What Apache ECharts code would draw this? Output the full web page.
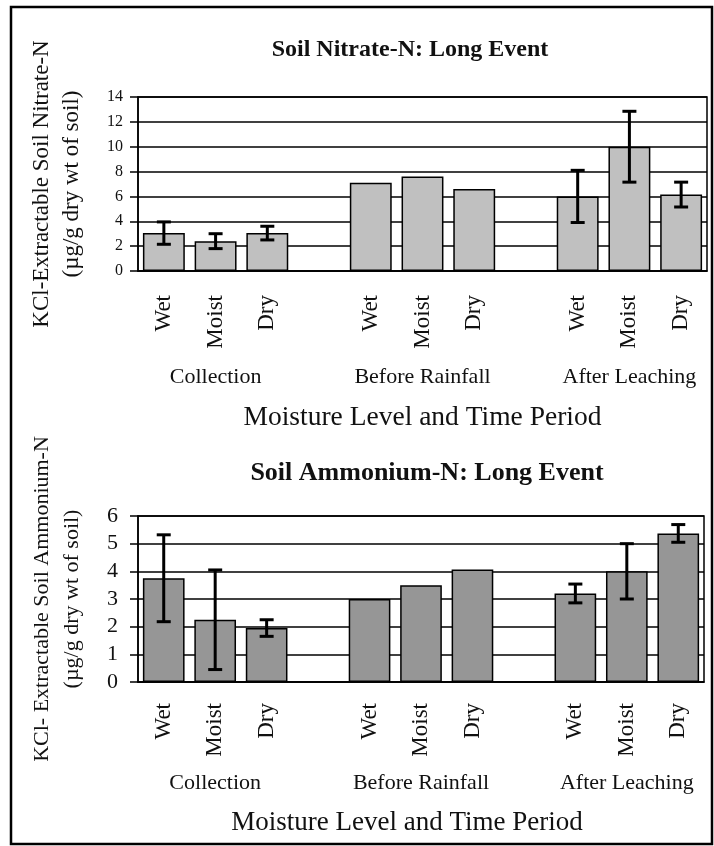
<!DOCTYPE html>
<html>
<head>
<meta charset="utf-8">
<title>Soil Nitrate-N and Ammonium-N: Long Event</title>
<script src="https://cdn.jsdelivr.net/npm/echarts@6/dist/echarts.min.js"></script>
<style>
  html, body { margin: 0; padding: 0; background: #fff; }
  #chart { width: 714px; height: 846px; }
</style>
</head>
<body>
<div id="chart"></div>
<script>
// Moisture level within each time period; empty slots separate the periods
const categories = ['Wet', 'Moist', 'Dry', '', 'Wet', 'Moist', 'Dry', '', 'Wet', 'Moist', 'Dry'];
const periodLabels = ['', 'Collection', '', '', '', 'Before Rainfall', '', '', '', 'After Leaching', ''];

// Soil nitrate-N (µg/g dry wt of soil) and error bar half-widths
const nitrateMean = [3.05, 2.4, 3.05, null, 7.1, 7.6, 6.6, null, 6.0, 10.0, 6.15];
const nitrateErr  = [0.9, 0.6, 0.55, null, null, null, null, null, 2.1, 2.85, 1.0];

// Soil ammonium-N (µg/g dry wt of soil) and error bar half-widths
const ammoniumMean = [3.75, 2.25, 1.95, null, 3.0, 3.5, 4.07, null, 3.2, 4.0, 5.37];
const ammoniumErr  = [1.57, 1.8, 0.3, null, null, null, null, null, 0.34, 1.0, 0.32];

const nitrateTicks = [0, 2, 4, 6, 8, 10, 12, 14];
const ammoniumTicks = [0, 1, 2, 3, 4, 5, 6];

const FONT = '"Liberation Serif", "Times New Roman", serif';
const INK = '#111';

function errorData(mean, err) {
  const out = [];
  mean.forEach((m, i) => {
    if (m != null && err[i] != null) out.push([i, m, err[i]]);
  });
  return out;
}

function renderErrorBar(params, api) {
  const i = api.value(0), m = api.value(1), e = api.value(2);
  const hi = api.coord([i, m + e]);
  const lo = api.coord([i, m - e]);
  const cap = 7;
  const style = { stroke: '#000', lineWidth: 3 };
  return {
    type: 'group',
    children: [
      { type: 'line', shape: { x1: hi[0], y1: hi[1], x2: lo[0], y2: lo[1] }, style },
      { type: 'line', shape: { x1: hi[0] - cap, y1: hi[1], x2: hi[0] + cap, y2: hi[1] }, style },
      { type: 'line', shape: { x1: lo[0] - cap, y1: lo[1], x2: lo[0] + cap, y2: lo[1] }, style }
    ]
  };
}

function valueAxis(gridIndex, ticks, labelSize, labelMargin, name, nameSize) {
  return {
    type: 'value',
    gridIndex,
    min: ticks[0],
    max: ticks[ticks.length - 1],
    interval: ticks[1] - ticks[0],
    axisLine: { show: true, lineStyle: { color: '#000', width: 1.5 } },
    axisTick: { show: true, length: 8, lineStyle: { color: '#000', width: 1.5 } },
    axisLabel: { color: INK, fontFamily: FONT, fontSize: labelSize, margin: labelMargin },
    splitLine: { show: true, lineStyle: { color: '#000', width: 1.5 } },
    name,
    nameLocation: 'middle',
    nameRotate: 90,
    nameGap: 51,
    nameTextStyle: { color: INK, fontFamily: FONT, fontSize: nameSize, lineHeight: 30, align: 'center' }
  };
}

function levelAxis(gridIndex, labelMargin) {
  return {
    type: 'category',
    gridIndex,
    data: categories,
    axisLine: { show: true, onZero: false, lineStyle: { color: '#000', width: 1.5 } },
    axisTick: { show: false },
    axisLabel: { interval: 0, rotate: 90, margin: labelMargin, color: INK, fontFamily: FONT, fontSize: 23 },
    splitLine: { show: false }
  };
}

function periodAxis(gridIndex, labelMargin, nameGap, nameSize, namePadding) {
  return {
    type: 'category',
    gridIndex,
    position: 'bottom',
    data: periodLabels,
    axisLine: { show: false },
    axisTick: { show: false },
    axisLabel: { interval: 0, margin: labelMargin, color: INK, fontFamily: FONT, fontSize: 22 },
    splitLine: { show: false },
    name: 'Moisture Level and Time Period',
    nameLocation: 'middle',
    nameGap,
    nameTextStyle: { color: INK, fontFamily: FONT, fontSize: nameSize, padding: namePadding }
  };
}

const chart = echarts.init(document.getElementById('chart'), null, { renderer: 'canvas' });

chart.setOption({
  backgroundColor: '#fff',
  animation: false,
  grid: [
    { left: 138, right: 7, top: 97, height: 174, show: true, borderColor: '#000', borderWidth: 1.5 },
    { left: 138, right: 10, top: 516, height: 166, show: true, borderColor: '#000', borderWidth: 1.5 }
  ],
  xAxis: [
    levelAxis(0, 24),
    periodAxis(0, 95, 133, 27.5, [0, 0, 0, 0]),
    levelAxis(1, 21),
    periodAxis(1, 90, 127, 27, [0, 28, 0, 0])
  ],
  yAxis: [
    valueAxis(0, nitrateTicks, 16, 15, 'KCl-Extractable Soil Nitrate-N\n(µg/g dry wt of soil)', 23),
    valueAxis(1, ammoniumTicks, 22, 20, 'KCl- Extractable Soil Ammonium-N\n(µg/g dry wt of soil)', 22)
  ],
  series: [
    {
      type: 'bar', xAxisIndex: 0, yAxisIndex: 0,
      data: nitrateMean, barCategoryGap: '19%',
      itemStyle: { color: '#c0c0c0', borderColor: '#000', borderWidth: 1.5 }
    },
    {
      type: 'custom', xAxisIndex: 0, yAxisIndex: 0,
      data: errorData(nitrateMean, nitrateErr), renderItem: renderErrorBar, z: 5
    },
    {
      type: 'bar', xAxisIndex: 2, yAxisIndex: 1,
      data: ammoniumMean, barCategoryGap: '19%',
      itemStyle: { color: '#969696', borderColor: '#000', borderWidth: 1.5 }
    },
    {
      type: 'custom', xAxisIndex: 2, yAxisIndex: 1,
      data: errorData(ammoniumMean, ammoniumErr), renderItem: renderErrorBar, z: 5
    }
  ],
  graphic: [
    {
      type: 'rect', shape: { x: 11, y: 7, width: 701, height: 837 },
      style: { fill: 'none', stroke: '#000', lineWidth: 2.5 }, z: 10
    },
    {
      type: 'text', x: 410, y: 50,
      style: { text: 'Soil Nitrate-N: Long Event', fill: INK, font: 'bold 24px ' + FONT, textAlign: 'center', textVerticalAlign: 'middle' }
    },
    {
      type: 'text', x: 427, y: 473,
      style: { text: 'Soil Ammonium-N: Long Event', fill: INK, font: 'bold 26px ' + FONT, textAlign: 'center', textVerticalAlign: 'middle' }
    }
  ]
});
</script>
</body>
</html>
